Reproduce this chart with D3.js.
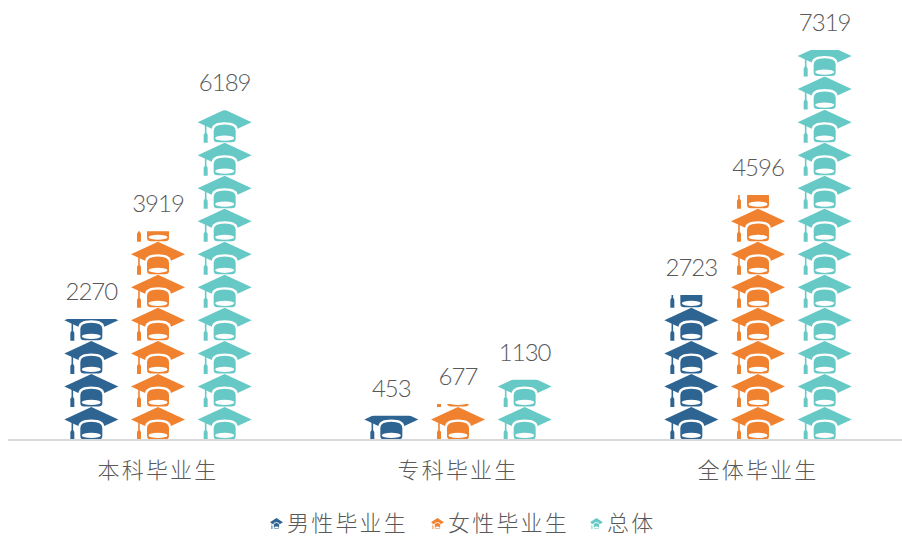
<!DOCTYPE html>
<html>
<head>
<meta charset="utf-8">
<script src="https://d3js.org/d3.v7.min.js"></script>
<style>
  html, body { margin: 0; padding: 0; background: #fff; }
  svg { display: block; }
  text { font-family: "Noto Sans CJK SC", sans-serif; fill: #595959; }
  .cat text, .legend text { font-size: 22px; letter-spacing: 2.2px; font-weight: 300; }
  .num { font-family: Lato, "Open Sans", sans-serif; font-size: 24px; font-weight: 300; letter-spacing: -1px; text-anchor: middle; }
</style>
</head>
<body>
<svg id="chart" width="902" height="536"></svg>
<script>
const categories = ['本科毕业生', '专科毕业生', '全体毕业生'];
const seriesNames = ['男性毕业生', '女性毕业生', '总体'];
const seriesColors = ['#2e6491', '#f0812f', '#66c9c6'];
const male = [2270, 453, 2723];
const female = [3919, 677, 4596];
const total = [6189, 1130, 7319];
const seriesValues = [male, female, total];

// one cap stands for this many graduates
const iconValue = 620;

const svg = d3.select('#chart');
const baseY = 440;

const x0 = d3.scaleBand().domain(categories).range([8, 908]);
const x1 = d3.scaleBand().domain(seriesNames).range([-100, 100]);
const y = d3.scaleLinear().domain([0, 7319]).range([baseY, 50]);

const iconW = 54;

// the cap, drawn in a 54x33 box
const defs = svg.append('defs');
const cap = defs.append('g').attr('id', 'cap');
cap.append('path')
  .attr('d', 'M27,0 L54,12.5 L27,25 L0,12.5 Z');
cap.append('path')
  .attr('d', 'M14,33 L14,20 Q14,12.5 27,12.5 Q40,12.5 40,20 L40,33 Z')
  .attr('fill', '#fff');
cap.append('path')
  .attr('d', 'M16,21 Q16,14.8 27,14.8 Q38,14.8 38,21 L38,29 Q38,32.5 34,32.5 L20,32.5 Q16,32.5 16,29 Z');
cap.append('ellipse')
  .attr('cx', 27).attr('cy', 28.5).attr('rx', 9.5).attr('ry', 2.6)
  .attr('fill', '#fff');
cap.append('path')
  .attr('d', 'M7.2,13 L8.8,13 L8.8,23 L10,25 L10,33 L6,33 L6,25 L7.2,23 Z');

const chart = svg.append('g');

seriesNames.forEach((name, s) => {
  seriesValues[s].forEach((v, c) => {
    const cx = x0(categories[c]) + x0.bandwidth() / 2 + x1(name) + x1.bandwidth() / 2;
    const clipId = `clip-${s}-${c}`;

    defs.append('clipPath').attr('id', clipId)
      .append('rect')
      .attr('x', cx - iconW / 2 - 2)
      .attr('y', y(v))
      .attr('width', iconW + 4)
      .attr('height', y(0) - y(v));

    chart.append('g')
      .attr('clip-path', `url(#${clipId})`)
      .attr('fill', seriesColors[s])
      .selectAll('use')
      .data(d3.range(Math.ceil(v / iconValue)))
      .join('use')
      .attr('href', '#cap')
      .attr('transform', i => `translate(${cx - iconW / 2},${y(iconValue * (i + 1))})`);

    chart.append('text')
      .attr('class', 'num')
      .attr('x', cx)
      .attr('y', y(v) - 19)
      .text(v);
  });
});

const axis = svg.append('g')
  .attr('class', 'cat')
  .attr('transform', `translate(0,${baseY})`)
  .call(d3.axisBottom(x0).tickSize(0).tickPadding(22));
axis.select('.domain').attr('stroke', '#d9d9d9').attr('stroke-width', 2)
  .attr('d', 'M8,0H902');

const legendX = [270, 431, 590];
const legend = svg.append('g').attr('class', 'legend');
seriesNames.forEach((name, s) => {
  legend.append('use')
    .attr('href', '#cap')
    .attr('fill', seriesColors[s])
    .attr('transform', `translate(${legendX[s]},518) scale(0.24,0.33)`);
  legend.append('text')
    .attr('x', legendX[s] + 17)
    .attr('y', 531)
    .text(name);
});
</script>
</body>
</html>
